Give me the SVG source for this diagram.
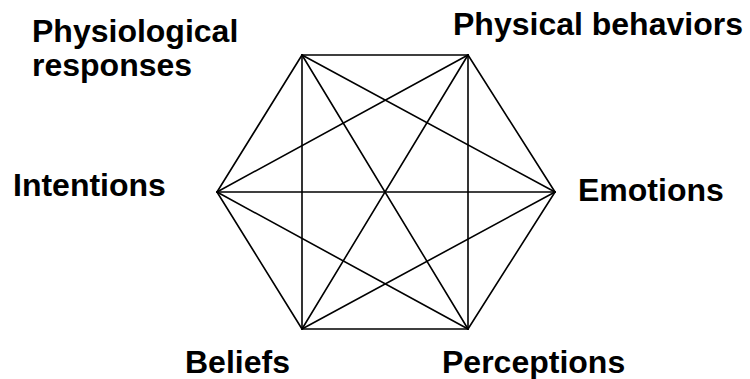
<svg xmlns="http://www.w3.org/2000/svg" width="750" height="379" viewBox="0 0 750 379">
<style>
.lbl{font-family:"Liberation Sans",Arial,sans-serif;font-weight:bold;font-size:32px;fill:#000}
.edge{stroke:#000;stroke-width:1.6;fill:none;stroke-linecap:round}
</style>
<rect width="750" height="379" fill="#fff"/>
<g id="connectors">
<line class="edge" x1="302" y1="55" x2="468" y2="55"/>
<line class="edge" x1="302" y1="55" x2="555" y2="192"/>
<line class="edge" x1="302" y1="55" x2="468" y2="329"/>
<line class="edge" x1="302" y1="55" x2="302" y2="329"/>
<line class="edge" x1="302" y1="55" x2="217" y2="192"/>
<line class="edge" x1="468" y1="55" x2="555" y2="192"/>
<line class="edge" x1="468" y1="55" x2="468" y2="329"/>
<line class="edge" x1="468" y1="55" x2="302" y2="329"/>
<line class="edge" x1="468" y1="55" x2="217" y2="192"/>
<line class="edge" x1="555" y1="192" x2="468" y2="329"/>
<line class="edge" x1="555" y1="192" x2="302" y2="329"/>
<line class="edge" x1="555" y1="192" x2="217" y2="192"/>
<line class="edge" x1="468" y1="329" x2="302" y2="329"/>
<line class="edge" x1="468" y1="329" x2="217" y2="192"/>
<line class="edge" x1="302" y1="329" x2="217" y2="192"/>
</g>
<g id="physiological">
<text class="lbl" x="32" y="42">Physiological</text>
<text class="lbl" x="32" y="76">responses</text>
</g>
<g id="physical-behaviors"><text class="lbl" x="453" y="35">Physical behaviors</text></g>
<g id="intentions"><text class="lbl" x="13" y="196">Intentions</text></g>
<g id="emotions"><text class="lbl" x="578" y="201">Emotions</text></g>
<g id="beliefs"><text class="lbl" x="185" y="373">Beliefs</text></g>
<g id="perceptions"><text class="lbl" x="442" y="373">Perceptions</text></g>
</svg>
